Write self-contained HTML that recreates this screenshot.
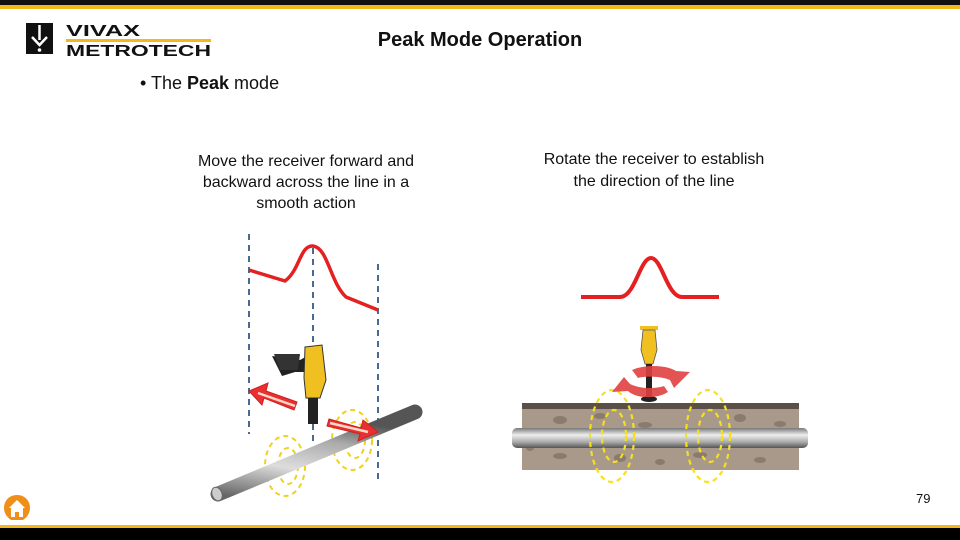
<!DOCTYPE html>
<html><head><meta charset="utf-8"><style>
html,body{margin:0;padding:0;background:#fff;}
svg{display:block;font-family:"Liberation Sans",sans-serif;}
</style></head><body>
<svg width="960" height="540" viewBox="0 0 960 540" xmlns="http://www.w3.org/2000/svg">
<defs>
<linearGradient id="pipe" x1="0" y1="0" x2="0" y2="1">
<stop offset="0" stop-color="#777"/><stop offset="0.35" stop-color="#eee"/><stop offset="0.7" stop-color="#aaa"/><stop offset="1" stop-color="#555"/>
</linearGradient>
<linearGradient id="pipe2" x1="0" y1="1" x2="0.4" y2="0">
<stop offset="0" stop-color="#666"/><stop offset="0.4" stop-color="#ddd"/><stop offset="0.75" stop-color="#aaa"/><stop offset="1" stop-color="#555"/>
</linearGradient>
</defs>
<rect x="0" y="0" width="960" height="5" fill="#111"/>
<rect x="0" y="5" width="960" height="4" fill="#f5b81c"/>
<rect x="0" y="525" width="960" height="3" fill="#f5b81c"/>
<rect x="0" y="528" width="960" height="12" fill="#000"/>
<!-- logo -->
<rect x="26" y="23" width="27" height="31" fill="#111"/>
<path d="M39.5 25 V40 M32 37 L39.5 45 L47 37" stroke="#fff" stroke-width="2.5" fill="none"/>
<circle cx="39.5" cy="50" r="1.8" fill="#fff"/>
<text x="66" y="36" font-size="16" font-weight="bold" fill="#111" textLength="74" lengthAdjust="spacingAndGlyphs">VIVAX</text>
<rect x="66" y="39" width="145" height="3" fill="#f5b81c"/>
<text x="66" y="56" font-size="16" font-weight="bold" fill="#111" textLength="145" lengthAdjust="spacingAndGlyphs">METROTECH</text>
<text x="480" y="46" font-size="20" font-weight="bold" text-anchor="middle" fill="#111">Peak Mode Operation</text>
<text x="140" y="89" font-size="18" fill="#111">•  The <tspan font-weight="bold">Peak</tspan> mode</text>
<g font-size="16" fill="#111" text-anchor="middle">
<text x="306" y="166">Move the receiver forward and</text>
<text x="306" y="187">backward across the line in a</text>
<text x="306" y="208">smooth action</text>
<text x="654" y="164">Rotate the receiver to establish</text>
<text x="654" y="186">the direction of the line</text>
</g>
<!-- left diagram -->
<g stroke="#4a6a90" stroke-width="2" stroke-dasharray="6,5">
<line x1="249" y1="234" x2="249" y2="434"/>
<line x1="313" y1="248" x2="313" y2="445"/>
<line x1="378" y1="264" x2="378" y2="480"/>
</g>
<path d="M249 270 L285 281 C300 270 300 245 313 246 C328 248 330 282 346 297 L378 310" stroke="#e52020" stroke-width="3.5" fill="none"/>
<g stroke="#f0d020" stroke-width="2" stroke-dasharray="5,4" fill="none">
<ellipse cx="285" cy="466" rx="20" ry="30"/><ellipse cx="288" cy="466" rx="10" ry="18"/>
<ellipse cx="352" cy="440" rx="20" ry="30"/><ellipse cx="355" cy="440" rx="10" ry="18"/>
</g>
<line x1="218" y1="494" x2="415" y2="412" stroke="url(#pipe2)" stroke-width="15" stroke-linecap="round"/>
<ellipse cx="217" cy="494" rx="5" ry="7" fill="#ccc" stroke="#666" transform="rotate(-22 217 494)"/>
<!-- receiver left -->
<path d="M272 356 L300 360 L318 350 L322 345 L320 372 L295 372 L282 376 Z" fill="#222"/>
<path d="M274 354 L300 354 L298 370 L280 370 Z" fill="#333"/>
<path d="M305 347 L322 345 L326 380 L320 398 L306 398 L304 378 Z" fill="#f0c020" stroke="#333" stroke-width="1"/>
<rect x="308" y="398" width="10" height="26" fill="#222"/>
<!-- arrows -->
<g stroke="#d02020" stroke-width="1">
<path d="M297 402 L266 391 L268 383 L249 391 L262 405 L264 398 L294 410 Z" fill="#e83030"/>
<line x1="295" y1="406" x2="258" y2="393" stroke="#ffd8c8" stroke-width="2.5"/>
<path d="M329 419 L361 428 L363 420 L378 432 L358 441 L360 434 L327 426 Z" fill="#e83030"/>
<line x1="330" y1="423" x2="368" y2="432" stroke="#ffd8c8" stroke-width="2.5"/>
</g>
<!-- right diagram -->
<path d="M581 297 L620 297 C635 297 640 258 651 258 C662 258 667 297 682 297 L719 297" stroke="#e52020" stroke-width="4" fill="none"/>
<rect x="522" y="404" width="277" height="66" fill="#a8998a"/>
<rect x="522" y="403" width="277" height="6" fill="#5a5048"/>
<g fill="#8a7b6e">
<ellipse cx="560" cy="420" rx="7" ry="4"/><ellipse cx="600" cy="416" rx="6" ry="3"/><ellipse cx="645" cy="425" rx="7" ry="3"/>
<ellipse cx="740" cy="418" rx="6" ry="4"/><ellipse cx="780" cy="424" rx="6" ry="3"/><ellipse cx="560" cy="456" rx="7" ry="3"/>
<ellipse cx="620" cy="458" rx="6" ry="4"/><ellipse cx="700" cy="455" rx="7" ry="3"/><ellipse cx="760" cy="460" rx="6" ry="3"/>
<ellipse cx="660" cy="462" rx="5" ry="3"/><ellipse cx="530" cy="448" rx="4" ry="3"/>
</g>
<rect x="512" y="428" width="296" height="20" rx="5" fill="url(#pipe)"/>
<g stroke="#f5e020" stroke-width="2.2" stroke-dasharray="5,4" fill="none">
<ellipse cx="612" cy="436" rx="22" ry="46"/><ellipse cx="614" cy="436" rx="12" ry="26"/>
<ellipse cx="708" cy="436" rx="22" ry="46"/><ellipse cx="710" cy="436" rx="12" ry="26"/>
</g>
<rect x="640" y="326" width="18" height="4" fill="#f0c020"/>
<path d="M643 330 L655 330 L657 350 L653 364 L645 364 L641 350 Z" fill="#f0c020" stroke="#555" stroke-width="0.8"/>
<rect x="646" y="364" width="6" height="34" fill="#222"/>
<ellipse cx="649" cy="399" rx="8" ry="3" fill="#222"/>
<path d="M632 370 C645 364 667 365 676 371 L690 372 L674 388 L670 380 C660 376 645 376 638 378 Z" fill="#e04040" opacity="0.9"/>
<path d="M668 392 C655 400 635 398 628 391 L612 392 L624 377 L630 384 C640 389 655 389 664 386 Z" fill="#e04040" opacity="0.9"/>
<!-- home icon -->
<path d="M17 495 C9 495 4 501 4 508 C4 514 8 518 11 520 L23 520 C26 518 30 514 30 508 C30 501 25 495 17 495 Z" fill="#ef8f1a"/>
<path d="M17 500 L9 508 L11 508 L11 517 L15 517 L15 512 L19 512 L19 517 L23 517 L23 508 L25 508 Z" fill="#fff"/>
<text x="916" y="503" font-size="13" fill="#111">79</text>
</svg>
</body></html>
